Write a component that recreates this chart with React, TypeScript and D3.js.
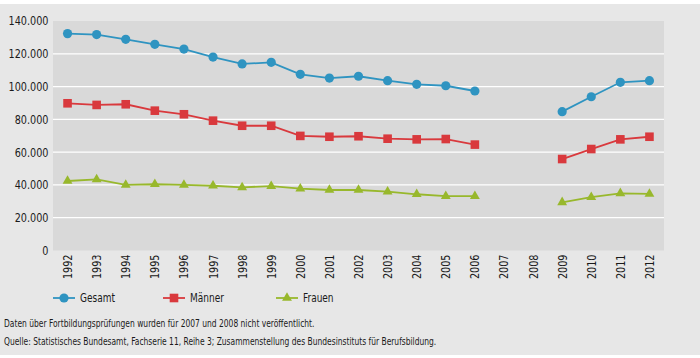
import React from "react";
import * as d3 from "d3";

const years = ["1992","1993","1994","1995","1996","1997","1998","1999","2000","2001","2002","2003","2004","2005","2006","2007","2008","2009","2010","2011","2012"];
const gesamt: (number | null)[] = [132300,131700,128800,125800,122900,118000,113800,114800,107500,105200,106300,103600,101400,100500,97300,null,null,84700,93800,102600,103600];
const maenner: (number | null)[] = [89800,88800,89200,85300,83100,79200,76100,76100,69900,69400,69700,68200,67800,68000,64600,null,null,55800,61900,67800,69400];
const frauen: (number | null)[] = [42400,43400,40000,40400,40000,39500,38500,39300,37700,36900,36900,35900,34300,33200,33200,null,null,29400,32500,34900,34500];
const yTicks = [0,20000,40000,60000,80000,100000,120000,140000];
const seriesNames = ["Gesamt","Männer","Frauen"];
const note1 = "Daten über Fortbildungsprüfungen wurden für 2007 und 2008 nicht veröffentlicht.";
const note2 = "Quelle: Statistisches Bundesamt, Fachserie 11, Reihe 3; Zusammenstellung des Bundesinstituts für Berufsbildung.";

const FONT = "'Liberation Sans Narrow', 'DejaVu Sans Condensed', 'Open Sans', sans-serif";
const colors = ["#2f94c1", "#d9393d", "#98b82c"];

const plot = { left: 53, right: 664, top: 21, bottom: 250.5 };

function Marker({ type, x, y, color }: { type: number; x: number; y: number; color: string }) {
  if (type === 0) return <circle cx={x} cy={y} r={4.6} fill={color} />;
  if (type === 1) return <rect x={x - 4.3} y={y - 4.3} width={8.6} height={8.6} fill={color} />;
  const s = d3.symbol().type(d3.symbolTriangle).size(42)();
  return <path d={s || ""} transform={`translate(${x},${y})`} fill={color} />;
}

export default function App() {
  const x = d3.scaleBand().domain(years).range([plot.left, plot.right]).padding(0);
  const y = d3.scaleLinear().domain([0, 140000]).range([plot.bottom, plot.top]);
  const cx = (yr: string) => (x(yr) as number) + x.bandwidth() / 2;
  const line = d3
    .line<number | null>()
    .defined((d) => d != null)
    .x((_, i) => cx(years[i]))
    .y((d) => y(d as number));
  const data = [gesamt, maenner, frauen];
  const legendX = [53, 163, 276];

  return (
    <svg width={700} height={358} style={{ position: "absolute", left: 0, top: 0 }} fontFamily={FONT}>
      <rect x={0} y={0} width={700} height={358} fill="#ffffff" />
      <rect x={0} y={4} width={700} height={351} fill="#e7e7e7" />
      <rect x={plot.left} y={plot.top} width={plot.right - plot.left} height={plot.bottom - plot.top} fill="#d9d9d9" />
      {yTicks.slice(1, -1).map((t) => (
        <line key={t} x1={plot.left} x2={plot.right} y1={y(t)} y2={y(t)} stroke="#ffffff" strokeWidth={1.2} />
      ))}
      {yTicks.map((t) => (
        <text key={t} transform={`translate(48.5,${y(t)}) scale(0.86,1)`} dy="0.35em" textAnchor="end" fontSize={12.5} fill="#1a1a1a">
          {d3.format(",")(t).replace(/,/g, ".")}
        </text>
      ))}
      {years.map((yr) => (
        <text key={yr} transform={`translate(${cx(yr)},${254.5}) rotate(-90) scale(0.86,1)`} textAnchor="end" dy="0.36em" fontSize={12.5} fill="#1a1a1a">
          {yr}
        </text>
      ))}
      {data.map((arr, si) => (
        <g key={si}>
          <path d={line(arr) || ""} fill="none" stroke={colors[si]} strokeWidth={1.8} />
          {arr.map((v, i) => (v == null ? null : <Marker key={i} type={si} x={cx(years[i])} y={y(v)} color={colors[si]} />))}
        </g>
      ))}
      {seriesNames.map((n, si) => (
        <g key={n}>
          <line x1={legendX[si]} x2={legendX[si] + 22} y1={298} y2={298} stroke={colors[si]} strokeWidth={1.8} />
          <Marker type={si} x={legendX[si] + 11} y={298} color={colors[si]} />
          <text transform={`translate(${legendX[si] + 27},298) scale(0.8,1)`} dy="0.35em" fontSize={12.5} fill="#1a1a1a">{n}</text>
        </g>
      ))}
      <text transform="translate(4,323) scale(0.84,1)" dy="0.35em" fontSize={10} fill="#1a1a1a">{note1}</text>
      <text transform="translate(4,341.5) scale(0.84,1)" dy="0.35em" fontSize={10} fill="#1a1a1a">{note2}</text>
    </svg>
  );
}
